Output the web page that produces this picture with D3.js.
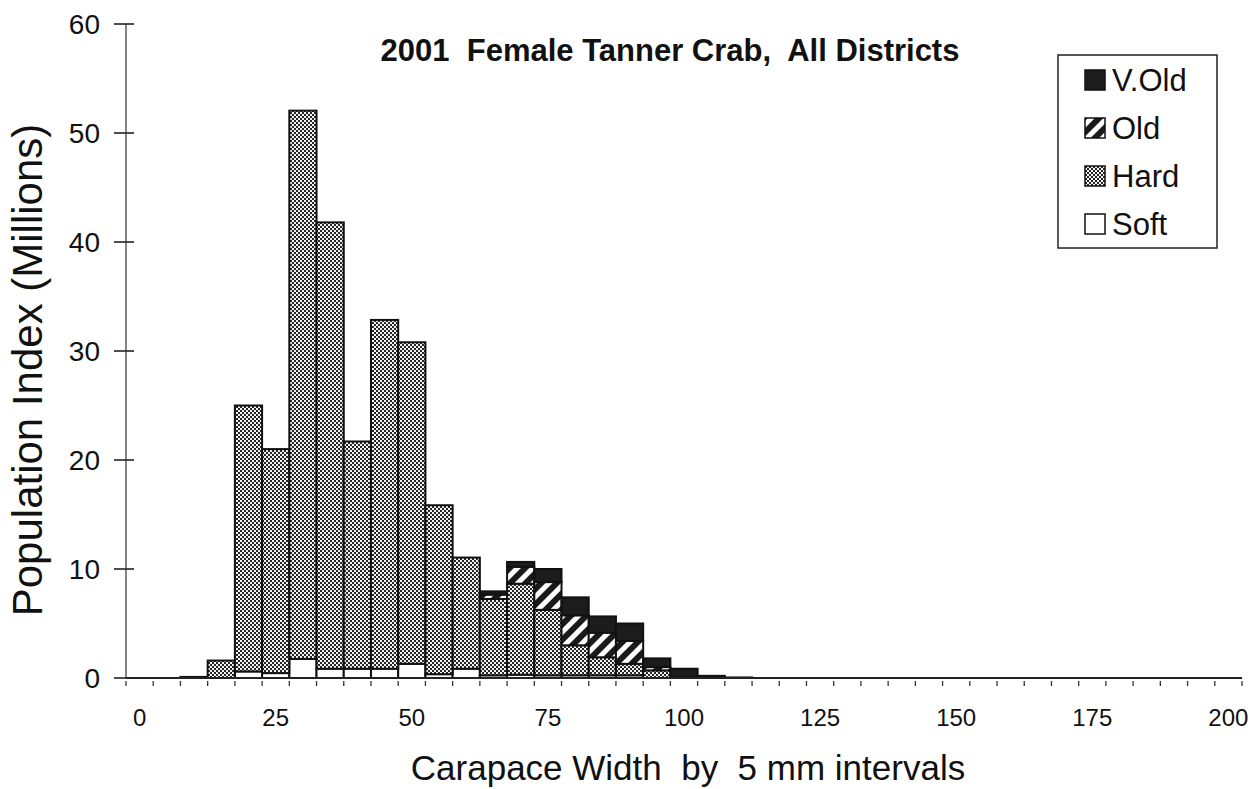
<!DOCTYPE html>
<html>
<head>
<meta charset="utf-8">
<script src="https://cdn.jsdelivr.net/npm/d3@7"></script>
<style>
  body { margin: 0; background: #fff; }
  text { font-family: "Liberation Sans", Arial, sans-serif; fill: #111; white-space: pre; }
</style>
</head>
<body>
<script>
// data: carapace width bins (mm) and population index (millions) per shell condition
const widths = [0, 5, 10, 15, 20, 25, 30, 35, 40, 45, 50, 55, 60, 65, 70, 75, 80, 85, 90, 95,
  100, 105, 110, 115, 120, 125, 130, 135, 140, 145, 150, 155, 160, 165, 170, 175, 180, 185, 190, 195, 200]
const soft = [0, 0, 0, 0, 0.6, 0.45, 1.75, 0.85, 0.85, 0.85, 1.3, 0.35, 0.85, 0.25, 0.3, 0.25, 0.25, 0.25, 0.25, 0,
  0, 0, 0, 0, 0, 0, 0, 0, 0, 0, 0, 0, 0, 0, 0, 0, 0, 0, 0, 0, 0]
const hard = [0, 0, 0.1, 1.6, 24.4, 20.55, 50.3, 40.95, 20.85, 32.0, 29.5, 15.5, 10.2, 7.0, 8.35, 6.0, 2.75, 1.65, 1.05, 0.7,
  0.1, 0, 0, 0, 0, 0, 0, 0, 0, 0, 0, 0, 0, 0, 0, 0, 0, 0, 0, 0, 0]
const old = [0, 0, 0, 0, 0, 0, 0, 0, 0, 0, 0, 0, 0, 0.4, 1.55, 2.55, 2.75, 2.25, 2.1, 0.3,
  0, 0, 0, 0, 0, 0, 0, 0, 0, 0, 0, 0, 0, 0, 0, 0, 0, 0, 0, 0, 0]
const vOld = [0, 0, 0, 0, 0, 0, 0, 0, 0, 0, 0, 0, 0, 0.3, 0.45, 1.2, 1.65, 1.5, 1.6, 0.8,
  0.75, 0.2, 0.05, 0, 0, 0, 0, 0, 0, 0, 0, 0, 0, 0, 0, 0, 0, 0, 0, 0, 0]
const yTicks = [0, 10, 20, 30, 40, 50, 60]
const xLabels = [0, 25, 50, 75, 100, 125, 150, 175, 200]
const seriesNames = ["Soft", "Hard", "Old", "V.Old"]

const W = 1258, H = 789
const plot = {left: 126, right: 1242, top: 24, bottom: 678}

const svg = d3.select("body").append("svg")
  .attr("width", W)
  .attr("height", H)

//patterns
const defs = svg.append("defs")
const hardPat = defs.append("pattern")
  .attr("id", "hardFill")
  .attr("patternUnits", "userSpaceOnUse")
  .attr("width", 4).attr("height", 4)
hardPat.append("rect").attr("width", 4).attr("height", 4).attr("fill", "#262626")
hardPat.append("rect").attr("width", 2).attr("height", 2).attr("fill", "#f2f2f2")
hardPat.append("rect").attr("x", 2).attr("y", 2).attr("width", 2).attr("height", 2).attr("fill", "#f2f2f2")

const oldPat = defs.append("pattern")
  .attr("id", "oldFill")
  .attr("patternUnits", "userSpaceOnUse")
  .attr("width", 11).attr("height", 11)
  .attr("patternTransform", "rotate(45)")
oldPat.append("rect").attr("width", 11).attr("height", 11).attr("fill", "#fff")
oldPat.append("rect").attr("width", 6).attr("height", 11).attr("fill", "#1a1a1a")

const fills = {"Soft": "#fff", "Hard": "url(#hardFill)", "Old": "url(#oldFill)", "V.Old": "#1c1c1c"}

//scales
const x = d3.scaleBand()
  .domain(widths)
  .range([plot.left, plot.right])
  .padding(0)
const y = d3.scaleLinear()
  .domain([0, 60])
  .range([plot.bottom, plot.top])

//stack
const table = widths.map(function(w, i) {
  return {width: w, "Soft": soft[i], "Hard": hard[i], "Old": old[i], "V.Old": vOld[i]}
})
const stacked = d3.stack().keys(seriesNames)(table)

svg.append("g")
  .selectAll("g")
  .data(stacked)
  .enter().append("g")
  .attr("fill", d => fills[d.key])
  .selectAll("rect")
  .data(d => d.filter(s => s[1] - s[0] > 0))
  .enter().append("rect")
  .attr("x", d => x(d.data.width))
  .attr("width", x.bandwidth())
  .attr("y", d => y(d[1]))
  .attr("height", d => y(d[0]) - y(d[1]))
  .attr("stroke", "#111")
  .attr("stroke-width", 2)

//y axis
const yAxis = svg.append("g").attr("class", "yAxis")
yAxis.append("line")
  .attr("x1", plot.left).attr("x2", plot.left)
  .attr("y1", y(60)).attr("y2", y(0))
  .attr("stroke", "#333").attr("stroke-width", 1.2)
yAxis.selectAll(".tick")
  .data(yTicks)
  .enter().append("line")
  .attr("x1", plot.left - 12).attr("x2", plot.left + 8)
  .attr("y1", d => y(d)).attr("y2", d => y(d))
  .attr("stroke", "#222").attr("stroke-width", 1.6)
yAxis.selectAll(".label")
  .data(yTicks)
  .enter().append("text")
  .attr("x", 100)
  .attr("y", d => y(d))
  .attr("dy", "0.35em")
  .attr("text-anchor", "end")
  .style("font-size", "28px")
  .text(d => d)

//x axis
const xAxis = svg.append("g").attr("class", "xAxis")
xAxis.append("line")
  .attr("x1", plot.left).attr("x2", plot.right)
  .attr("y1", y(0)).attr("y2", y(0))
  .attr("stroke", "#222").attr("stroke-width", 2)
xAxis.selectAll(".tick")
  .data(widths.concat(["end"]))
  .enter().append("line")
  .attr("x1", d => d === "end" ? plot.right : x(d))
  .attr("x2", d => d === "end" ? plot.right : x(d))
  .attr("y1", y(0) + 3).attr("y2", y(0) + 8)
  .attr("stroke", "#333").attr("stroke-width", 1.3)
xAxis.selectAll(".label")
  .data(xLabels)
  .enter().append("text")
  .attr("x", d => x(d) + x.bandwidth() / 2)
  .attr("y", 726)
  .attr("text-anchor", "middle")
  .style("font-size", "24px")
  .text(d => d)

//titles
svg.append("text")
  .attr("x", 670)
  .attr("y", 61)
  .attr("text-anchor", "middle")
  .style("font-size", "31px")
  .style("font-weight", "bold")
  .text("2001  Female Tanner Crab,  All Districts")

svg.append("text")
  .attr("x", 688)
  .attr("y", 780)
  .attr("text-anchor", "middle")
  .style("font-size", "35px")
  .text("Carapace Width  by  5 mm intervals")

svg.append("text")
  .attr("transform", "translate(42,370) rotate(-90)")
  .attr("text-anchor", "middle")
  .style("font-size", "42px")
  .text("Population Index (Millions)")

//legend
const legendItems = ["V.Old", "Old", "Hard", "Soft"]
const legend = svg.append("g").attr("class", "legend")
legend.append("rect")
  .attr("x", 1058).attr("y", 55)
  .attr("width", 159).attr("height", 193)
  .attr("fill", "#fff")
  .attr("stroke", "#222").attr("stroke-width", 1.5)
const item = legend.selectAll(".item")
  .data(legendItems)
  .enter().append("g")
  .attr("transform", (d, i) => "translate(1085," + (80 + i * 48) + ")")
item.append("rect")
  .attr("x", 0).attr("y", -10)
  .attr("width", 20).attr("height", 20)
  .attr("fill", d => fills[d])
  .attr("stroke", "#111").attr("stroke-width", 1.5)
item.append("text")
  .attr("x", 27)
  .attr("y", 11)
  .style("font-size", "31px")
  .text(d => d)
</script>
</body>
</html>
